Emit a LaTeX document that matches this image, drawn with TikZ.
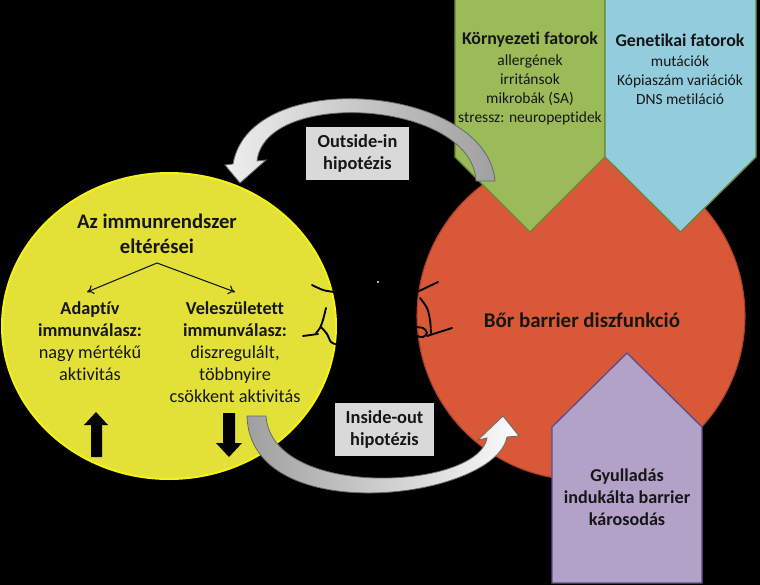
\documentclass[tikz,border=0pt]{standalone}
\usepackage{fontspec}
\setmainfont{Carlito}[Ligatures={NoCommon}]
\usetikzlibrary{arrows.meta}
\definecolor{yfill}{RGB}{227,225,55}
\definecolor{yedge}{RGB}{245,242,25}
\definecolor{rfill}{RGB}{217,88,55}
\definecolor{redge}{RGB}{165,62,42}
\definecolor{gfill}{RGB}{155,187,89}
\definecolor{gedge}{RGB}{105,135,55}
\definecolor{bfill}{RGB}{147,205,221}
\definecolor{pfill}{RGB}{179,162,199}
\definecolor{pedge}{RGB}{95,75,139}
\definecolor{boxgray}{RGB}{217,217,217}
\definecolor{txt}{RGB}{22,22,22}
\definecolor{arrowedge}{RGB}{105,105,105}
\definecolor{lightg}{RGB}{238,238,238}
\definecolor{darkg}{RGB}{160,160,160}
\begin{document}
\begin{tikzpicture}[x=0.75pt,y=-0.75pt,
  lbl/.style={text=txt, align=center, inner sep=0pt},
  ytitlefont/.style={font=\fontsize{15.5pt}{18.75pt}\selectfont\bfseries},
  yblockfont/.style={font=\fontsize{13.7pt}{16.5pt}\selectfont},
  ftitlefont/.style={font=\fontsize{13.4pt}{16pt}\selectfont\bfseries},
  fitemfont/.style={font=\fontsize{11.6pt}{14.4pt}\selectfont},
  redfont/.style={font=\fontsize{15.7pt}{18pt}\selectfont\bfseries},
  purpfont/.style={font=\fontsize{13.6pt}{16.5pt}\selectfont\bfseries},
  hypbox/.style={fill=boxgray, text=txt, align=center, inner sep=0pt,
     font=\fontsize{13.8pt}{16.5pt}\selectfont\bfseries},
  thinarrow/.style={draw=txt, line width=0.8pt, -{To[length=5pt,width=7pt]}},
  scrib/.style={draw=black, line width=1.4pt, line cap=round, line join=round},
  blockarrow/.style={fill=black}
]
\useasboundingbox (0,0) rectangle (760,585);
\fill[black] (0,0) rectangle (760,585);

% red circle
\filldraw[fill=rfill, draw=redge, line width=0.8pt] (581,316) circle[radius=164];

% factor pentagons
\filldraw[fill=gfill, draw=gedge, line width=1pt]
  (455,-1) -- (605,-1) -- (605,157) -- (530,232) -- (455,157) -- cycle;
\filldraw[fill=bfill, draw=gedge, line width=1pt]
  (605,-1) -- (756,-1) -- (756,157) -- (680.5,232) -- (605,157) -- cycle;
\filldraw[fill=pfill, draw=pedge, line width=1pt]
  (552,583) -- (552,427) -- (627,353) -- (702,427) -- (702,583) -- cycle;

% yellow ellipse
\filldraw[fill=yfill, draw=yedge, line width=1.5pt] (169,326) ellipse[x radius=167, y radius=153];

% outside-in curved arrow
\path[draw=arrowedge, line width=0.6pt, left color=lightg, right color=darkg]
  (495,181) .. controls (487,85) and (250,65) .. (233,164) -- (225,165) -- (240,183)
  -- (266,160) -- (257,161) .. controls (265,88) and (472,100) .. (476,181) -- cycle;

% inside-out curved arrow
\path[draw=arrowedge, line width=0.6pt, left color=darkg, right color=white!97!gray]
  (247,416) .. controls (250,530) and (495,500) .. (507,437) -- (519,436) -- (503,416)
  -- (478,440) -- (487,438) .. controls (478,490) and (272,500) .. (266,416) -- cycle;

% hypothesis boxes
\node[hypbox, minimum width=77.25pt, minimum height=39.75pt] (outin) at (357.5,153.5) {Outside-in\\hipotézis};
\node[hypbox, minimum width=74.25pt, minimum height=39.75pt] (inout) at (384.5,429.5) {Inside-out\\hipotézis};

% yellow texts
\node[lbl, ytitlefont] (ytitle) at (157,234) {Az immunrendszer\\eltérései};
\coordinate (split) at (157,263);
\coordinate (adtip) at (87,292);
\coordinate (vetip) at (235,292);
\draw[thinarrow] (split) -- (adtip);
\draw[thinarrow] (split) -- (vetip);
\node[lbl, yblockfont] (adapt) at (90,341) {\textbf{Adaptív}\\\textbf{immunválasz:}\\nagy mértékű\\aktivitás};
\node[lbl, yblockfont] (vele) at (235,352) {\textbf{Veleszületett}\\\textbf{immunválasz:}\\diszregulált,\\többnyire\\csökkent aktivitás};

% black block arrows
\fill[blockarrow] (91,457) -- (91,425) -- (84,425) -- (96,412) -- (108,425) -- (102,425) -- (102,457) -- cycle;
\fill[blockarrow] (223,413) -- (235,413) -- (235,443) -- (242,443) -- (229,457) -- (216,443) -- (223,443) -- cycle;

% factor texts
\node[lbl, ftitlefont] (envt) at (530,40) {Környezeti fatorok};
\node[lbl, fitemfont] (envi) at (530,90) {allergének\\irritánsok\\mikrobák (SA)\\stressz: neuropeptidek};
\node[lbl, ftitlefont] (gent) at (680,40) {Genetikai fatorok};
\node[lbl, fitemfont] (geni) at (680,80) {mutációk\\Kópiaszám variációk\\DNS metiláció};

% red text
\node[lbl, redfont] (bor) at (582,320) {Bőr barrier diszfunkció};

% purple text
\node[lbl, purpfont] (gyull) at (627,497) {Gyulladás\\indukálta barrier\\károsodás};

% scribbles
\draw[scrib] plot[smooth] coordinates {(312,285) (323,290) (334,292)};
\draw[scrib] plot[smooth] coordinates {(326,308) (323,320) (320,328) (316,333)};
\draw[scrib] (303,336) -- (318,334);
\draw[scrib] plot[smooth] coordinates {(321,327) (327,334) (331,342) (338,345)};
\draw[scrib] (417,292) -- (438,282);
\draw[scrib] plot[smooth] coordinates {(420,298) (427,308) (430,320) (431,333)};
\draw[scrib] plot[smooth] coordinates {(413,327) (423,328) (427,333) (423,337) (417,336)};
\draw[scrib] (427,336) -- (452,328);
\fill[white!85!gray] (378,282) circle[radius=1.2];
\end{tikzpicture}
\end{document}
